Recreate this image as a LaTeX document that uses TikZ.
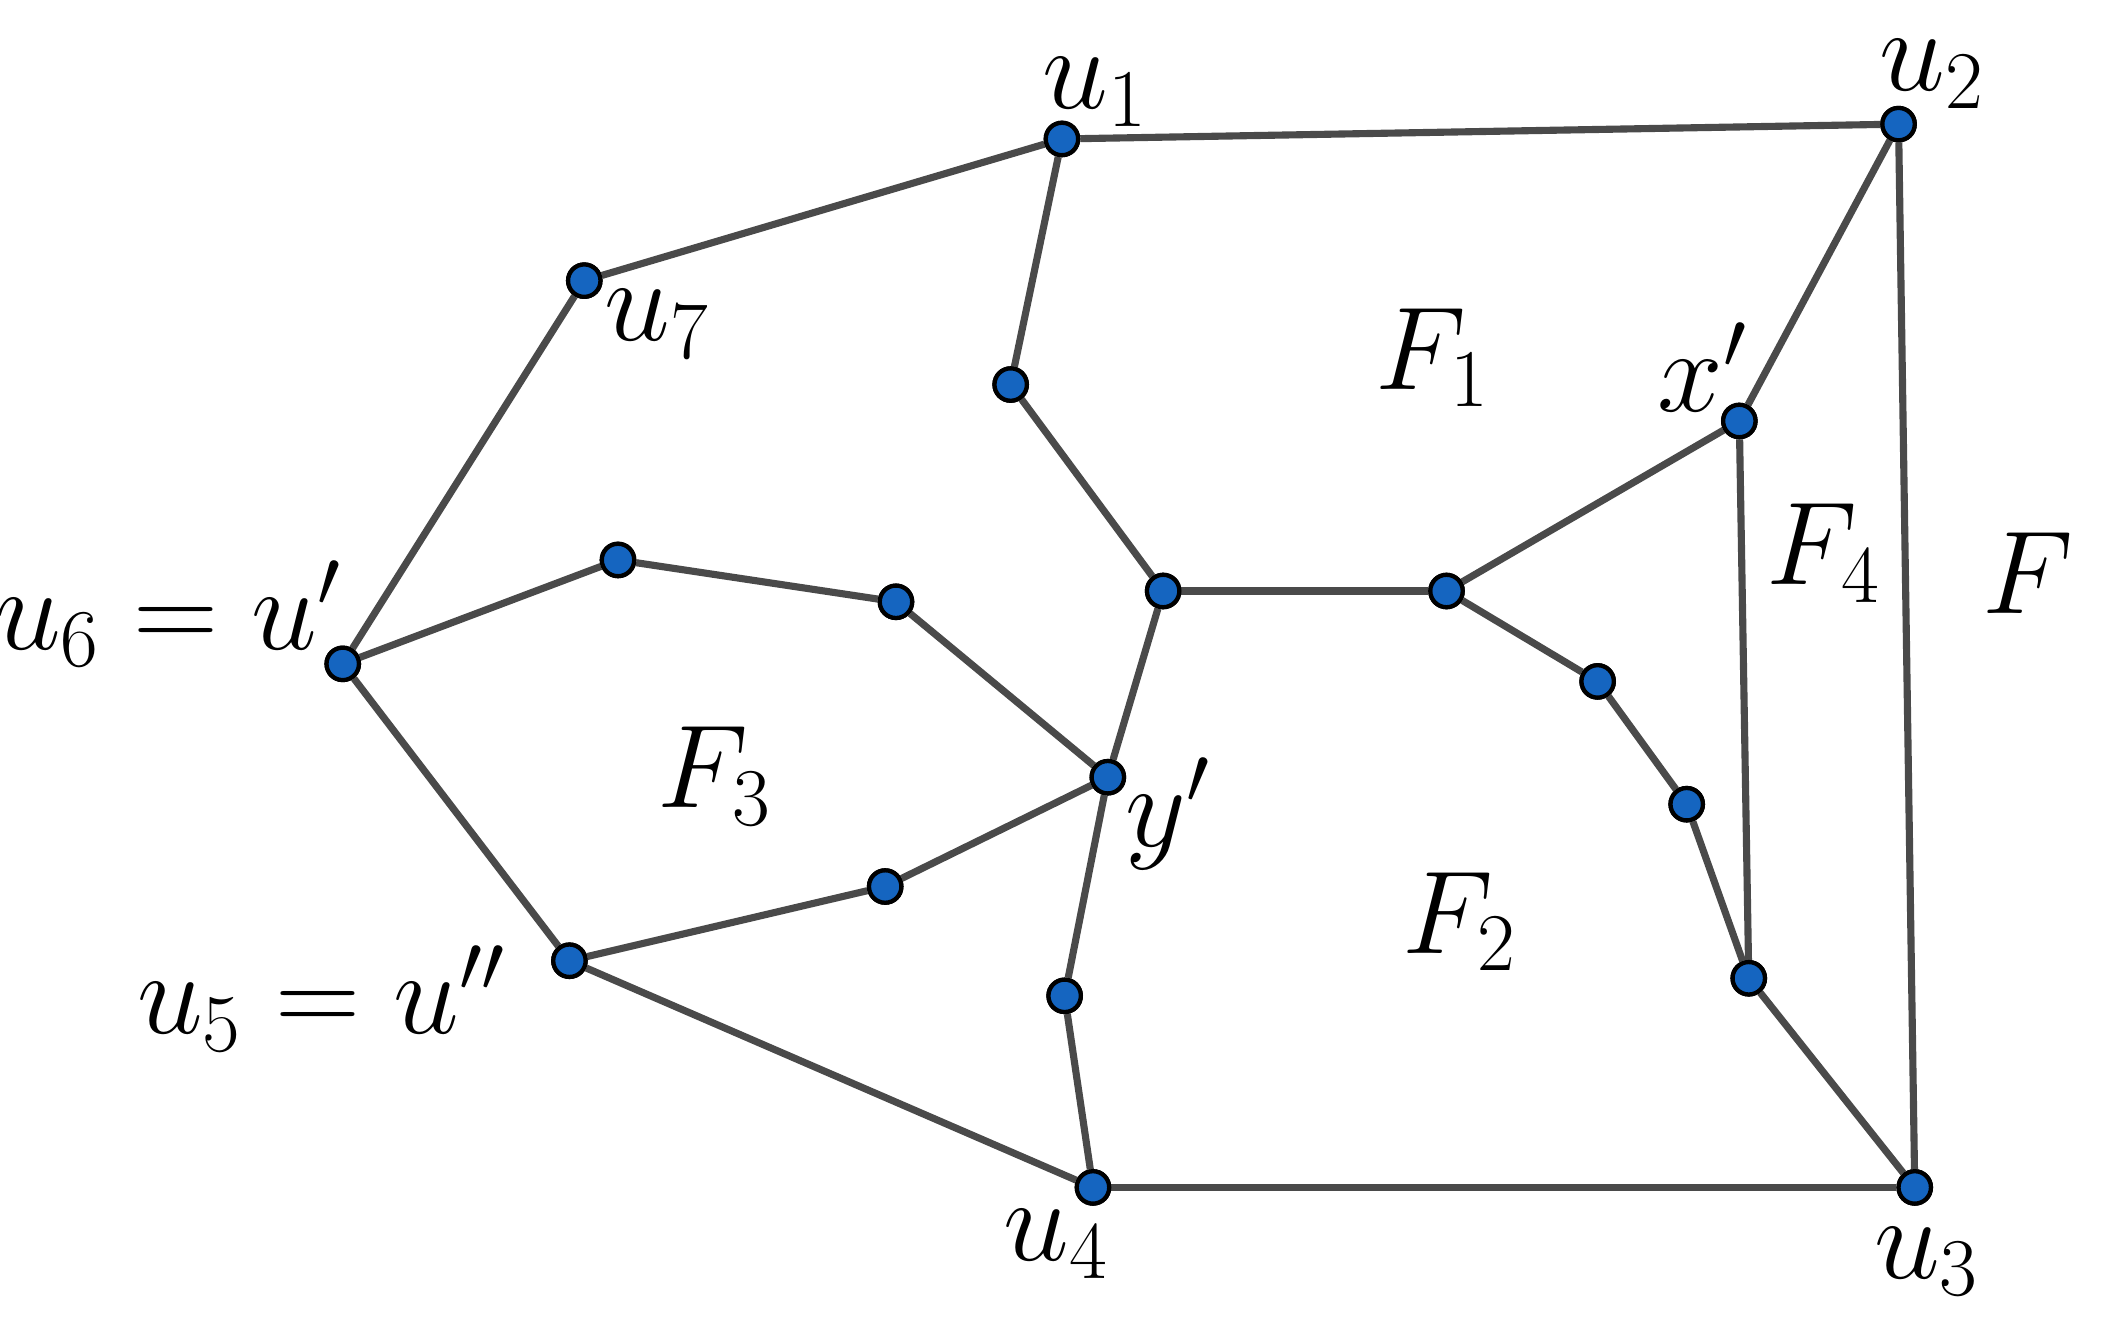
\documentclass[tikz,border=0pt]{standalone}
\usepackage{amsmath,amssymb}
\usepackage{tikz}
\definecolor{vblue}{HTML}{1565C0}
\definecolor{egray}{HTML}{4A4A4A}
\begin{document}
\begin{tikzpicture}[
                    x=0.01cm, y=-0.01cm,
                    vert/.style={circle, draw=black, fill=vblue, line width=0.9pt,
                                 inner sep=0pt, minimum size=0.24cm},
                    lbl/.style={font=\fontsize{24}{28}\selectfont},
                    every edge/.style={draw=egray, line width=1.5pt}
                ]
                \useasboundingbox (0,0) rectangle (1560,980);
                \node[vert] (U1) at (787,103) {};
                \node[vert] (U2) at (1407,92)  {};
                \node[vert] (U3) at (1419,880) {};
                \node[vert] (U4) at (810,880)  {};
                \node[vert] (U5) at (422,712)  {};
                \node[vert] (U6) at (254,492)  {};
                \node[vert] (U7) at (433,208)  {};
                \node[vert] (A)  at (749,285)  {};
                \node[vert] (C)  at (862,438)  {};
                \node[vert] (D)  at (1072,438) {};
                \node[vert] (X)  at (1289,312) {};
                \node[vert] (E)  at (1184,505) {};
                \node[vert] (G)  at (1250,596) {};
                \node[vert] (H)  at (1296,725) {};
                \node[vert] (Y)  at (821,576)  {};
                \node[vert] (K)  at (789,738)  {};
                \node[vert] (P)  at (458,415)  {};
                \node[vert] (Q)  at (664,446)  {};
                \node[vert] (R)  at (656,657)  {};

                \path
                (U1) edge (U2)  (U2) edge (U3)  (U3) edge (U4)
                (U1) edge (U7)  (U7) edge (U6)
                (U1) edge (A)   (A) edge (C)    (C) edge (D)
                (D) edge (X)    (X) edge (U2)
                (D) edge (E)    (E) edge (G)    (G) edge (H)
                (H) edge (U3)   (X) edge (H)
                (C) edge (Y)    (Y) edge (K)    (K) edge (U4)
                (U6) edge (P)   (P) edge (Q)    (Q) edge (Y)
                (Y) edge (R)    (R) edge (U5)
                (U6) edge (U5)  (U5) edge (U4)
                ;
                \foreach \v in {U1,U2,U3,U4,U5,U6,U7,A,C,D,X,E,G,H,Y,K,P,Q,R}
                    \node[vert] at (\v) {};

                \node[lbl] (LU1) at (812,68)  {$u_1$};
                \node[lbl] (LU2) at (1432,55) {$u_2$};
                \node[lbl] (LU3) at (1428,935) {$u_3$};
                \node[lbl] (LU4) at (783,922) {$u_4$};
                \node[lbl] (LU7) at (487,240) {$u_7$};
                \node[lbl] (LX)  at (1262,272) {$x'$};
                \node[lbl] (LY)  at (866,603) {$y'$};
                \node[lbl, anchor=east] (LU6) at (266,455) {$u_6=u'$};
                \node[lbl, anchor=east] (LU5) at (388,740) {$u_5=u''$};
                \node[lbl] (F1) at (1062,265) {$F_1$};
                \node[lbl] (F2) at (1082,683) {$F_2$};
                \node[lbl] (F3) at (530,575)  {$F_3$};
                \node[lbl] (F4) at (1352,410) {$F_4$};
                \node[lbl] (F0) at (1503,425) {$F$};
            \end{tikzpicture}
\end{document}
